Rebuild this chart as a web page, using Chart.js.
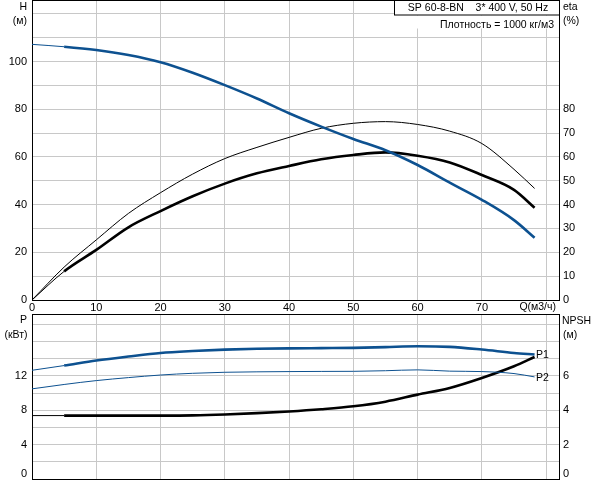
<!DOCTYPE html>
<html>
<head>
<meta charset="utf-8">
<script src="https://cdn.jsdelivr.net/npm/chart.js@4/dist/chart.umd.min.js"></script>
<style>
  body { margin: 0; background: #ffffff; }
  #wrap-top { position: absolute; left: 0; top: 0; width: 592px; height: 314px; }
  #wrap-bot { position: absolute; left: 0; top: 314px; width: 592px; height: 166px; }
</style>
</head>
<body>
<div id="wrap-top"><canvas id="chart-top"></canvas></div>
<div id="wrap-bot"><canvas id="chart-bot"></canvas></div>
<script>
(function () {
  'use strict';

  /*--------- DATA --------*/

  // flow Q (m3/h) shared by every curve
  const flow = [0, 5, 10, 15, 20, 25, 30, 35, 40, 45, 50, 55, 60, 65, 70, 75, 78.2];

  // top panel: head (m) and efficiencies (%)
  const head     = [107.2, 106.2, 104.8, 102.7, 99.7, 95.3, 90.1, 84.5, 78.3, 72.7, 67.5, 62.8, 56.6, 49.2, 42.0, 33.5, 26.1];
  const etaTotal = [0, 12.0, 21.0, 30.5, 37.3, 43.5, 48.8, 53.1, 56.2, 59.0, 60.8, 61.9, 60.5, 57.7, 52.4, 46.2, 38.7];
  const etaPump  = [0, 13.8, 25.2, 36.3, 45.0, 52.8, 59.3, 64.0, 68.2, 72.0, 74.1, 74.8, 73.6, 70.8, 65.6, 54.8, 46.8];

  // bottom panel: power (kW) and NPSH (m)
  const powerP1 = [12.65, 13.2, 13.78, 14.25, 14.67, 14.9, 15.06, 15.15, 15.2, 15.23, 15.26, 15.35, 15.44, 15.37, 15.06, 14.67, 14.48];
  const powerP2 = [10.49, 11.0, 11.45, 11.8, 12.1, 12.3, 12.42, 12.47, 12.5, 12.52, 12.53, 12.6, 12.7, 12.55, 12.5, 12.27, 11.88];
  const npsh    = [3.69, 3.69, 3.69, 3.69, 3.69, 3.7, 3.75, 3.83, 3.93, 4.06, 4.23, 4.5, 4.91, 5.3, 5.88, 6.56, 7.1];

  // ticks
  const qTicks     = [0, 10, 20, 30, 40, 50, 60, 70, 80];
  const qLabels    = ['0', '10', '20', '30', '40', '50', '60', '70', ''];
  const hTicks     = [0, 10, 20, 30, 40, 50, 60, 70, 80, 90, 100, 110, 120];
  const hLabels    = [0, 20, 40, 60, 80, 100];
  const etaTicks   = [0, 10, 20, 30, 40, 50, 60, 70, 80];
  const pTicks     = [0, 2, 4, 6, 8, 10, 12, 14, 16, 18];
  const pLabels    = [0, 4, 8, 12];
  const npshTicks  = [0, 2, 4, 6];

  const BLUE = '#0d5190';
  const GRID = '#c8c8c8';
  const FONT = { family: "'Liberation Sans', Arial, sans-serif", size: 11, lineHeight: 1.0 };
  const NOTE_FONT = "10.5px 'Liberation Sans', Arial, sans-serif";

  const pts = function (ys) {
    return flow.map(function (q, i) { return { x: q, y: ys[i] }; });
  };

  // thin start, thick body
  const thickAfterStart = function (ctx) { return ctx.p0.parsed.x < 5 ? 1 : 2.6; };

  const setTicks = function (list) {
    return function (scale) { scale.ticks = list.map(function (v) { return { value: v }; }); };
  };

  // fixed axis size, no auto padding from labels
  const fixSize = function (w, h) {
    return function (s) {
      if (w !== null) s.width = w;
      if (h !== null) s.height = h;
      s.paddingTop = 0; s.paddingBottom = 0; s.paddingLeft = 0; s.paddingRight = 0;
    };
  };

  // 0 label pushed up so it stays inside the canvas
  const lowZero = function (shown) {
    return function (v) {
      if (v === 0) return ['0', ''];
      return shown.indexOf(v) >= 0 ? String(v) : '';
    };
  };

  const lineDs = function (label, ys, color, yAxis, thick) {
    return {
      label: label,
      data: pts(ys),
      borderColor: color,
      borderWidth: thick ? 2.6 : 1,
      pointRadius: 0,
      cubicInterpolationMode: 'monotone',
      fill: false,
      yAxisID: yAxis,
      segment: thick ? { borderWidth: thickAfterStart } : undefined
    };
  };

  const txt = function (ctx, s, x, y, align) {
    ctx.save();
    ctx.font = NOTE_FONT;
    ctx.fillStyle = '#000';
    ctx.textAlign = align;
    ctx.textBaseline = 'middle';
    ctx.fillText(s, x, y);
    ctx.restore();
  };

  const topLine = {
    id: 'topLine',
    afterDraw: function (chart) {
      const ctx = chart.ctx, a = chart.chartArea;
      ctx.save();
      ctx.strokeStyle = '#000';
      ctx.lineWidth = 1;
      ctx.beginPath();
      ctx.moveTo(Math.round(a.left), 0.5);
      ctx.lineTo(Math.round(a.right) + 1, 0.5);
      ctx.stroke();
      ctx.restore();
    }
  };

  /*--------- TOP PANEL: H / eta --------*/

  const topNotes = {
    id: 'topNotes',
    afterDraw: function (chart) {
      const ctx = chart.ctx, a = chart.chartArea;
      const r = Math.round(a.right);
      ctx.save();
      ctx.fillStyle = '#fff';
      ctx.fillRect(395, 15.5, r - 395, 13);
      ctx.fillRect(395, 0, r - 395, 15);
      ctx.strokeStyle = '#000';
      ctx.lineWidth = 1;
      ctx.strokeRect(394.5, 0.5, r - 394, 14.5);
      ctx.restore();
      txt(ctx, 'SP 60-8-BN    3* 400 V, 50 Hz', 478, 8, 'center');
      txt(ctx, 'Плотность = 1000 кг/м3', 554, 25, 'right');
      txt(ctx, 'H', 27, 7, 'right');
      txt(ctx, '(м)', 27, 21, 'right');
      txt(ctx, 'eta', 563, 7, 'left');
      txt(ctx, '(%)', 563, 21, 'left');
      txt(ctx, 'Q(м3/ч)', 556, 307.5, 'right');
    }
  };

  new Chart(document.getElementById('chart-top'), {
    type: 'line',
    data: {
      datasets: [
        lineDs('H', head, BLUE, 'yH', true),
        lineDs('eta', etaPump, '#000', 'yEta', false),
        lineDs('eta total', etaTotal, '#000', 'yEta', true)
      ]
    },
    options: {
      responsive: true,
      maintainAspectRatio: false,
      animation: false,
      layout: { padding: 0, autoPadding: false },
      plugins: { legend: { display: false }, tooltip: { enabled: false } },
      scales: {
        x: {
          type: 'linear', min: 0, max: 82,
          afterBuildTicks: setTicks(qTicks),
          afterFit: fixSize(null, 14),
          grid: { color: GRID, drawTicks: false },
          border: { display: true, color: '#000' },
          ticks: {
            padding: 2, color: '#000', font: FONT, maxRotation: 0, autoSkip: false,
            callback: function (v) { return qLabels[qTicks.indexOf(v)]; }
          }
        },
        yH: {
          position: 'left', min: 0, max: 125.8,
          afterBuildTicks: setTicks(hTicks),
          afterFit: fixSize(32, null),
          grid: { color: GRID, drawTicks: false },
          border: { display: true, color: '#000' },
          ticks: {
            padding: 5, color: '#000', font: FONT, autoSkip: false,
            callback: function (v) { return hLabels.indexOf(v) >= 0 ? String(v) : ''; }
          }
        },
        yEta: {
          position: 'right', min: 0, max: 125.8,
          afterBuildTicks: setTicks(etaTicks),
          afterFit: fixSize(33, null),
          grid: { display: false, drawTicks: false },
          border: { display: true, color: '#000' },
          ticks: { padding: 4, color: '#000', font: FONT, autoSkip: false }
        }
      }
    },
    plugins: [topLine, topNotes]
  });

  /*--------- BOTTOM PANEL: P / NPSH --------*/

  const botNotes = {
    id: 'botNotes',
    afterDraw: function (chart) {
      const ctx = chart.ctx;
      const xs = chart.scales.x, yp = chart.scales.yP;
      const last = flow.length - 1;
      const xEnd = xs.getPixelForValue(flow[last]);
      txt(ctx, 'P', 27, 6, 'right');
      txt(ctx, '(кВт)', 27.5, 21, 'right');
      txt(ctx, 'NPSH', 562, 7.5, 'left');
      txt(ctx, '(м)', 563, 21, 'left');
      txt(ctx, 'P1', xEnd + 1.5, yp.getPixelForValue(powerP1[last]) + 1, 'left');
      txt(ctx, 'P2', xEnd + 1.5, yp.getPixelForValue(powerP2[last]) + 1, 'left');
    }
  };

  new Chart(document.getElementById('chart-bot'), {
    type: 'line',
    data: {
      datasets: [
        lineDs('P1', powerP1, BLUE, 'yP', true),
        lineDs('P2', powerP2, BLUE, 'yP', false),
        lineDs('NPSH', npsh, '#000', 'yN', true)
      ]
    },
    options: {
      responsive: true,
      maintainAspectRatio: false,
      animation: false,
      layout: { padding: 0, autoPadding: false },
      plugins: { legend: { display: false }, tooltip: { enabled: false } },
      scales: {
        x: {
          type: 'linear', min: 0, max: 82,
          afterBuildTicks: setTicks(qTicks),
          afterFit: fixSize(null, 1),
          grid: { color: GRID, drawTicks: false },
          border: { display: true, color: '#000' },
          ticks: { display: false }
        },
        yP: {
          position: 'left', min: 0, max: 19.2,
          afterBuildTicks: setTicks(pTicks),
          afterFit: fixSize(32, null),
          grid: { color: GRID, drawTicks: false },
          border: { display: true, color: '#000' },
          ticks: { padding: 5, color: '#000', font: FONT, autoSkip: false, callback: lowZero(pLabels) }
        },
        yN: {
          position: 'right', min: 0, max: 9.6,
          afterBuildTicks: setTicks(npshTicks),
          afterFit: fixSize(33, null),
          grid: { display: false, drawTicks: false },
          border: { display: true, color: '#000' },
          ticks: { padding: 4, color: '#000', font: FONT, autoSkip: false, callback: lowZero(npshTicks) }
        }
      }
    },
    plugins: [topLine, botNotes]
  });

})();
</script>
</body>
</html>
